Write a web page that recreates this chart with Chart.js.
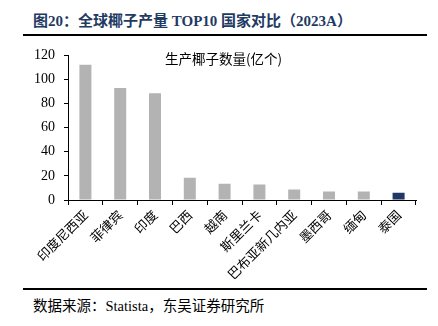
<!DOCTYPE html>
<html>
<head>
<meta charset="utf-8">
<script src="https://cdn.jsdelivr.net/npm/chart.js@4.4.1/dist/chart.umd.min.js"></script>
<style>
  body { margin: 0; background: #fff; width: 438px; height: 326px; position: relative; overflow: hidden; }
  #title { position: absolute; left: 33px; top: 9px; font: bold 15px "Liberation Serif", "Noto Sans CJK SC"; color: #1F3A63; white-space: nowrap; }
  #topLine { position: absolute; left: 23px; top: 34px; width: 404px; height: 2px; background: #000; }
  #bottomLine { position: absolute; left: 23px; top: 288px; width: 404px; height: 2px; background: #000; }
  #source { position: absolute; left: 33px; top: 294px; font: 14.5px "Liberation Serif", "Noto Sans CJK SC"; color: #000; white-space: nowrap; }
  #wrap { position: absolute; left: 23px; top: 38px; width: 404px; height: 250px; }
</style>
</head>
<body>
<div id="title">图20：全球椰子产量 TOP10 国家对比（2023A）</div>
<div id="topLine"></div>
<div id="wrap"><canvas id="myChart"></canvas></div>
<div id="bottomLine"></div>
<div id="source">数据来源：Statista，东吴证券研究所</div>
<script>
// data
const countries = ['印度尼西亚', '菲律宾', '印度', '巴西', '越南', '斯里兰卡', '巴布亚新几内亚', '墨西哥', '缅甸', '泰国'];
const output = [112.3, 93, 88.6, 18.4, 13.4, 12.9, 8.7, 7.1, 7.1, 6.1];
const yTicks = [0, 20, 40, 60, 80, 100, 120];
const seriesName = '生产椰子数量(亿个)';

const barColors = countries.map((c, i) => i === countries.length - 1 ? '#1F3864' : '#B3B3B3');

// legend text without swatch
const legendText = {
  id: 'legendText',
  afterDraw(chart) {
    const ctx = chart.ctx;
    ctx.save();
    ctx.font = '13.5px "Noto Sans CJK SC"';
    ctx.fillStyle = '#000';
    ctx.textBaseline = 'middle';
    ctx.fillText(seriesName, 142, 21);
    ctx.restore();
  }
};

const ctx = document.getElementById('myChart').getContext('2d');
new Chart(ctx, {
  type: 'bar',
  data: {
    labels: countries,
    datasets: [{
      label: seriesName,
      data: output,
      backgroundColor: barColors,
      barPercentage: 0.69,
      categoryPercentage: 0.5
    }]
  },
  options: {
    responsive: true,
    maintainAspectRatio: false,
    animation: false,
    layout: { padding: { top: 10, right: 11, left: 0, bottom: 0 } },
    plugins: { legend: { display: false }, tooltip: { enabled: false } },
    scales: {
      x: {
        offset: true,
        grid: { display: true, drawOnChartArea: false, drawTicks: true, tickLength: 5, color: '#000', offset: true },
        border: { color: '#000', width: 1 },
        ticks: {
          maxRotation: 45, minRotation: 45, autoSkip: false, padding: 2,
          color: '#000', font: { family: '"Noto Sans CJK SC"', size: 13 }
        },
        afterFit(scale) { scale.height = 88; }
      },
      y: {
        min: 0, max: 120,
        afterBuildTicks(scale) { scale.ticks = yTicks.map(v => ({ value: v })); },
        grid: { display: true, drawOnChartArea: false, drawTicks: true, tickLength: 4, color: '#000' },
        border: { color: '#000', width: 1 },
        ticks: { padding: 9, color: '#000', font: { family: '"Liberation Serif"', size: 14 } },
        afterFit(scale) { scale.width = 45; }
      }
    }
  },
  plugins: [legendText]
});
</script>
</body>
</html>
